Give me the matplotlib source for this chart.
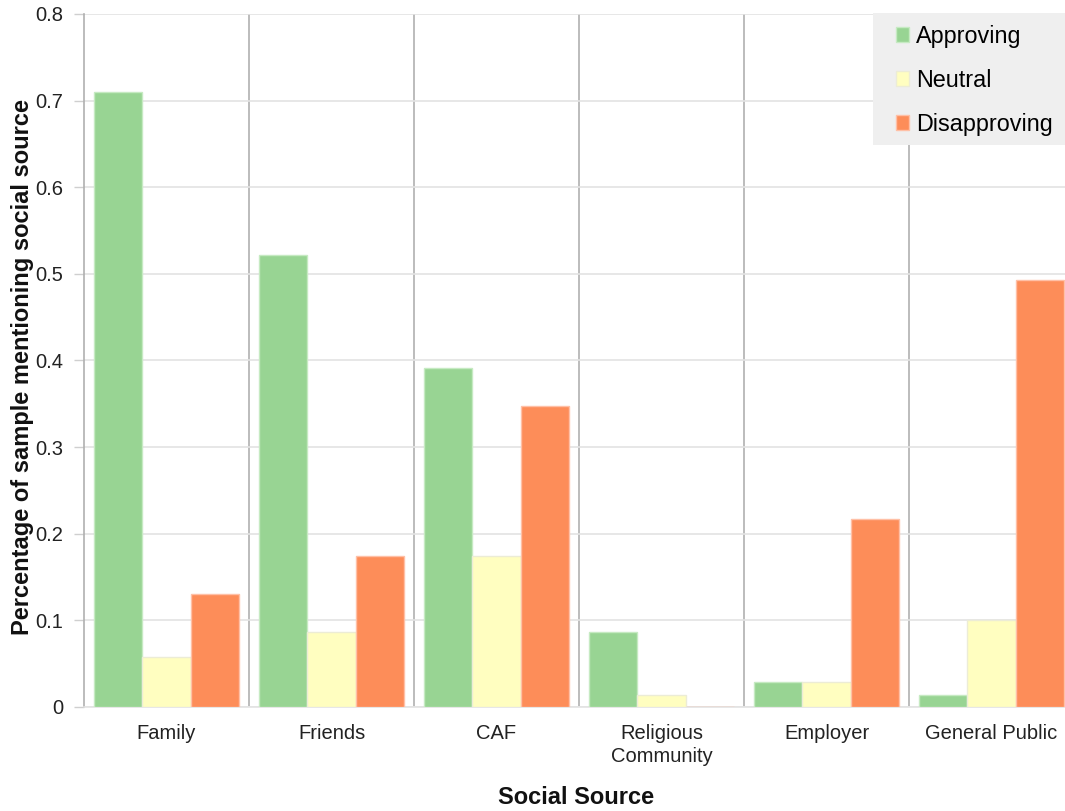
import matplotlib
matplotlib.use("Agg")
import matplotlib.pyplot as plt
from matplotlib.patches import Rectangle
import numpy as np

categories = ["Family", "Friends", "CAF", "Religious\nCommunity", "Employer", "General Public"]
approving = [0.710, 0.522, 0.391, 0.087, 0.029, 0.014]
neutral = [0.058, 0.087, 0.174, 0.014, 0.029, 0.101]
disapproving = [0.130, 0.174, 0.348, 0.0, 0.217, 0.493]
series_names = ["Approving", "Neutral", "Disapproving"]
yticks = [0, 0.1, 0.2, 0.3, 0.4, 0.5, 0.6, 0.7, 0.8]
ytick_labels = ["0", "0.1", "0.2", "0.3", "0.4", "0.5", "0.6", "0.7", "0.8"]

colors = ["#98d493", "#fffec0", "#fd8d59"]
edges = ["#c6eac2", "#ececd6", "#ffc0a6"]

plt.rcParams['font.family'] = ['Liberation Sans', 'DejaVu Sans']

fig = plt.figure(figsize=(10.65, 8.11), dpi=100)
ax = fig.add_axes([84/1065, 1 - 707/811, 990/1065, (707-14)/811])

x = np.arange(len(categories))
w = 0.293
for i, (vals, name) in enumerate(zip([approving, neutral, disapproving], series_names)):
    ax.bar(x + (i - 1) * w, vals, width=w, color=colors[i], edgecolor=edges[i],
           linewidth=1.0, label=name, zorder=3)

ax.set_xlim(-0.5, len(categories) - 0.5)
ax.set_ylim(0, 0.8)
ax.set_yticks(yticks)
ax.set_yticklabels(ytick_labels, fontsize=14.5, color="#222222")
ax.set_xticks(x)
ax.set_xticklabels(categories, fontsize=14.5, color="#222222", linespacing=1.3)
ax.tick_params(axis='x', length=0, pad=12)
ax.tick_params(axis='y', length=7, width=1, color="#cfcfcf", pad=8)

ax.yaxis.grid(True, color="#e3e3e3", linewidth=1.2, zorder=0)
for sep in x[:-1] + 0.5:
    ax.axvline(sep, color="#b0b0b0", linewidth=1.2, zorder=1)

for s in ["top", "right"]:
    ax.spines[s].set_visible(False)
ax.spines["left"].set_color("#b0b0b0")
ax.spines["left"].set_linewidth(1.2)
ax.spines["bottom"].set_color("#e3e3e3")
ax.spines["bottom"].set_linewidth(1.2)

ax.set_ylabel("Percentage of sample mentioning social source", fontsize=17,
              fontweight="bold", color="#111111")
ax.yaxis.set_label_coords(-0.0626, (707 - 367) / 693)
ax.yaxis.label.set_va("center")
ax.set_xlabel("Social Source", fontsize=17, fontweight="bold", color="#111111")
ax.xaxis.set_label_coords((576 - 84) / 990, -0.1313)
ax.xaxis.label.set_va("center")

# legend background panel
ax.add_patch(Rectangle(((873 - 84) / 990, (707 - 145) / 693), 0.21, (145 - 13) / 693,
                       transform=ax.transAxes, facecolor="#efefef", edgecolor="none",
                       zorder=4, clip_on=False))
leg = ax.legend(loc="upper left", bbox_to_anchor=((896 - 84) / 990, (707 - 25) / 693),
                borderaxespad=0, borderpad=0, fontsize=16.8, frameon=False,
                handlelength=0.55, handleheight=0.6, handletextpad=0.3,
                labelspacing=0.9)
leg.set_zorder(5)

fig.savefig("out.png", dpi=100)
